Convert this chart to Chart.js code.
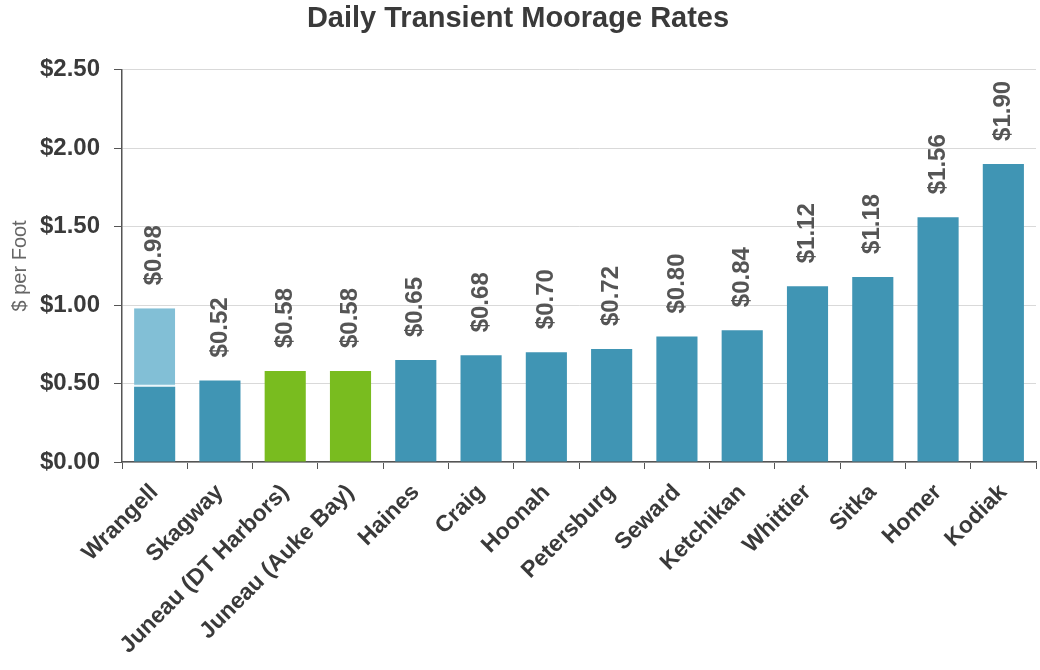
<!DOCTYPE html>
<html>
<head>
<meta charset="utf-8">
<script src="https://cdn.jsdelivr.net/npm/chart.js@4.4.1/dist/chart.umd.min.js"></script>
<style>
  html, body { margin: 0; padding: 0; background: #ffffff; }
  #wrap { width: 1040px; height: 670px; position: relative; }
</style>
</head>
<body>
<div id="wrap"><canvas id="c" width="1040" height="670"></canvas></div>
<script>
const categories = ['Wrangell', 'Skagway', 'Juneau (DT Harbors)', 'Juneau (Auke Bay)', 'Haines', 'Craig', 'Hoonah', 'Petersburg', 'Seward', 'Ketchikan', 'Whittier', 'Sitka', 'Homer', 'Kodiak'];
const baseRates = [0.48, 0.52, 0.58, 0.58, 0.65, 0.68, 0.70, 0.72, 0.80, 0.84, 1.12, 1.18, 1.56, 1.90];
const upperRates = [0.50, 0, 0, 0, 0, 0, 0, 0, 0, 0, 0, 0, 0, 0];
const rateLabels = ['$0.98', '$0.52', '$0.58', '$0.58', '$0.65', '$0.68', '$0.70', '$0.72', '$0.80', '$0.84', '$1.12', '$1.18', '$1.56', '$1.90'];
const yTicks = [0, 0.5, 1.0, 1.5, 2.0, 2.5];

const TEAL = '#4095b4';
const LIGHT = '#82bfd6';
const GREEN = '#79bc1f';
const baseColors = categories.map(c => c.startsWith('Juneau') ? GREEN : TEAL);

const FONT = "'Liberation Sans', Arial, sans-serif";

const valueLabels = {
  id: 'valueLabels',
  afterDatasetsDraw(chart) {
    const ctx = chart.ctx;
    const yScale = chart.scales.y;
    const meta0 = chart.getDatasetMeta(0);
    ctx.save();
    ctx.font = "bold 24px " + FONT;
    ctx.fillStyle = '#555555';
    ctx.textAlign = 'left';
    ctx.textBaseline = 'middle';
    categories.forEach((c, i) => {
      const total = baseRates[i] + upperRates[i];
      const x = meta0.data[i].x;
      const y = yScale.getPixelForValue(total) - 23;
      ctx.save();
      ctx.translate(x, y);
      ctx.rotate(-Math.PI / 2);
      ctx.fillText(rateLabels[i], 0, 0);
      ctx.restore();
    });
    ctx.restore();
  }
};

new Chart(document.getElementById('c'), {
  type: 'bar',
  data: {
    labels: categories,
    datasets: [
      {
        label: 'Base',
        data: baseRates,
        backgroundColor: baseColors,
        borderWidth: 0,
        categoryPercentage: 1.0,
        barPercentage: 0.63
      },
      {
        label: 'Upper',
        data: upperRates,
        backgroundColor: LIGHT,
        borderColor: '#eaf7fc',
        borderWidth: { top: 0, left: 0, right: 0, bottom: 2 },
        borderSkipped: false,
        categoryPercentage: 1.0,
        barPercentage: 0.63
      }
    ]
  },
  options: {
    responsive: false,
    animation: false,
    devicePixelRatio: 1,
    layout: { padding: { left: 0, right: 4, top: 0, bottom: 0 } },
    plugins: {
      legend: { display: false },
      tooltip: { enabled: false },
      title: {
        display: true,
        text: 'Daily Transient Moorage Rates',
        color: '#3a3a3a',
        font: { family: FONT, size: 29, weight: 'bold' },
        padding: { top: 2, bottom: 33 }
      }
    },
    scales: {
      x: {
        stacked: true,
        offset: true,
        border: { display: true, color: '#555555', width: 1.5 },
        grid: { display: true, drawOnChartArea: false, tickLength: 7, tickColor: '#555555', offset: true },
        ticks: {
          autoSkip: false,
          minRotation: 45,
          maxRotation: 45,
          padding: 10,
          color: '#3a3a3a',
          font: { family: FONT, size: 23, weight: 'bold' }
        },
        afterFit(scale) { scale.height = 208; }
      },
      y: {
        stacked: true,
        min: 0,
        max: 2.5,
        border: { display: true, color: '#555555', width: 1.5 },
        grid: { color: '#d9d9d9', lineWidth: 1, tickLength: 8, tickColor: '#555555' },
        afterBuildTicks(scale) { scale.ticks = yTicks.map(v => ({ value: v })); },
        ticks: {
          padding: 14,
          color: '#3a3a3a',
          font: { family: FONT, size: 24, weight: 'bold' },
          callback: v => '$' + Number(v).toFixed(2)
        },
        title: {
          display: true,
          text: '$ per Foot',
          color: '#666666',
          font: { family: FONT, size: 20 },
          padding: { top: 8, bottom: 0 }
        },
        afterFit(scale) { scale.width = 122; }
      }
    }
  },
  plugins: [valueLabels]
});
</script>
</body>
</html>
